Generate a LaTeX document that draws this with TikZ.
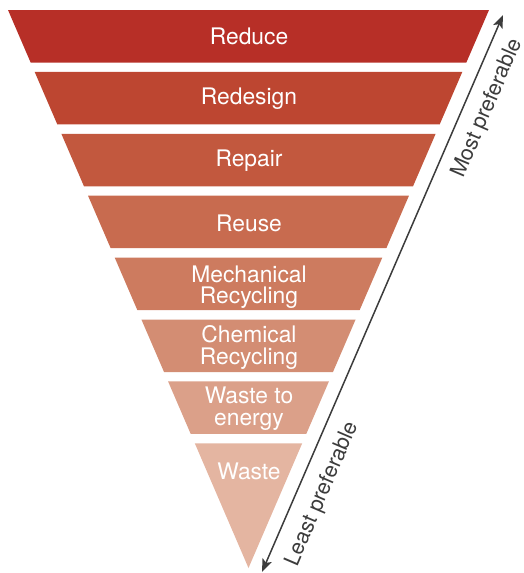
\documentclass[tikz,border=0pt]{standalone}
\usepackage{fontspec}
\setmainfont{TeX Gyre Heros}
\usetikzlibrary{arrows.meta}
\definecolor{c1}{HTML}{B72F27}
\definecolor{c2}{HTML}{BD4631}
\definecolor{c3}{HTML}{C2583E}
\definecolor{c4}{HTML}{C86B4F}
\definecolor{c5}{HTML}{CD7B5F}
\definecolor{c6}{HTML}{D38D73}
\definecolor{c7}{HTML}{DBA089}
\definecolor{c8}{HTML}{E4B5A1}
\definecolor{arrowgray}{HTML}{3C3C3C}
\begin{document}
\begin{tikzpicture}[x=1pt,y=-1pt,
  lbl/.style={text=white,font=\fontsize{22.8}{21.5}\selectfont,align=center,inner sep=0pt},
  side/.style={text=arrowgray,font=\fontsize{21.5}{21.5}\selectfont,rotate=66.8,inner sep=0pt},
  pref/.style={draw=arrowgray,line width=1.5pt,{Stealth[length=13pt,width=10pt,inset=3pt]}-{Stealth[length=13pt,width=10pt,inset=3pt]}}]
\useasboundingbox (0,0) rectangle (524,573);
\foreach \i/\c in {0/c1,1/c2,2/c3,3/c4,4/c5,5/c6,6/c7}{
  \pgfmathsetmacro\t{10+61.9*\i}
  \pgfmathsetmacro\b{\t+52.5}
  \fill[\c] ({8+0.431*(\t-10)},\t) -- ({489-0.431*(\t-10)},\t) -- ({489-0.431*(\b-10)},\b) -- ({8+0.431*(\b-10)},\b) -- cycle;
}
\fill[c8] (194.8,443.3) -- (302.2,443.3) -- (248.5,568) -- cycle;
\node[lbl] (reduce) at (249,36.5) {Reduce};
\node[lbl] (redesign) at (249,99) {Redesign};
\node[lbl] (repair) at (249,161) {Repair};
\node[lbl] (reuse) at (249,223) {Reuse};
\node[lbl] (mech) at (249,287) {Mechanical\\Recycling};
\node[lbl] (chem) at (249,347.5) {Chemical\\Recycling};
\node[lbl] (wte) at (249,408.5) {Waste to\\energy};
\node[lbl] (waste) at (249,471) {Waste};
\coordinate (lo) at (262,572);
\coordinate (hi) at (503,15);
\draw[pref] (lo) -- (hi);
\node[side] (most) at (487.5,108.5) {Most preferable};
\node[side] (least) at (322.5,494) {Least preferable};
\end{tikzpicture}
\end{document}
